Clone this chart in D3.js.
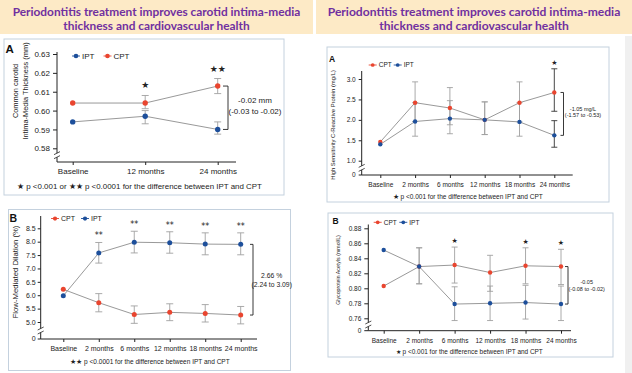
<!DOCTYPE html>
<html>
<head>
<meta charset="utf-8">
<script src="https://cdn.jsdelivr.net/npm/d3@7"></script>
<style>
  body { margin: 0; background: #fff; }
  svg { display: block; }
</style>
</head>
<body>
<script>
// colours
const RED = '#e9452f';
const BLUE = '#1d4f9b';
const FONT = '"Liberation Sans", Arial, sans-serif';

// header
const headerLines = ['Periodontitis treatment improves carotid intima-media', 'thickness and cardiovascular health'];

// left A: carotid intima-media thickness
const imtCategories = ['Baseline', '12 months', '24 months'];
const imtTicks = [0.58, 0.59, 0.60, 0.61, 0.62, 0.63];
const imtIPT = [0.594, 0.597, 0.590];
const imtIPTLow = [null, 0.593, 0.5875];
const imtIPTHigh = [null, 0.600, 0.594];
const imtCPT = [0.604, 0.604, 0.613];
const imtCPTLow = [null, 0.601, 0.609];
const imtCPTHigh = [null, 0.608, 0.617];
const imtStars = ['', '★', '★★'];
const imtDiff = ['-0.02 mm', '(-0.03 to -0.02)'];
const imtYLabel = ['Common carotid', 'Intima-Media Thickness (mm)'];
const imtNote = '★ p <0.001 or ★★ p <0.0001 for the difference between IPT and CPT';

// shared month categories for the other three panels
const monthCategories = ['Baseline', '2 months', '6 months', '12 months', '18 months', '24 months'];

// left B: flow-mediated dilation
const fmdTicks = [5.0, 5.5, 6.0, 6.5, 7.0, 7.5, 8.0, 8.5];
const fmdCPT = [6.22, 5.72, 5.28, 5.36, 5.32, 5.26];
const fmdCPTLow = [null, 5.38, 4.95, 5.05, 5.00, 4.93];
const fmdCPTHigh = [null, 6.06, 5.60, 5.68, 5.65, 5.58];
const fmdIPT = [5.98, 7.58, 7.98, 7.96, 7.91, 7.90];
const fmdIPTLow = [null, 7.20, 7.58, 7.57, 7.51, 7.51];
const fmdIPTHigh = [null, 7.97, 8.39, 8.37, 8.33, 8.33];
const fmdStars = ['', '**', '**', '**', '**', '**'];
const fmdDiff = ['2.66 %', '(2.24 to 3.09)'];
const fmdYLabel = ['Flow-Mediated Dilation (%)'];
const fmdNote = '★★  p <0.0001 for the difference between IPT and CPT';

// right A: high sensitivity C-reactive protein
const crpTicks = [1.0, 1.5, 2.0, 2.5, 3.0];
const crpCPT = [1.46, 2.42, 2.29, 2.00, 2.42, 2.67];
const crpCPTLow = [null, 1.96, 1.88, 1.64, 1.95, 2.21];
const crpCPTHigh = [null, 2.93, 2.79, 2.44, 2.93, 3.25];
const crpIPT = [1.40, 1.96, 2.03, 2.00, 1.95, 1.62];
const crpIPTLow = [null, 1.60, 1.66, 1.64, 1.60, 1.33];
const crpIPTHigh = [null, 2.42, 2.47, 2.44, 2.42, 1.98];
const crpStars = ['', '', '', '', '', '★'];
const crpDiff = ['-1.05 mg/L', '(-1.57 to -0.53)'];
const crpYLabel = ['High Sensitivity C-Reactive Protein (mg/L)'];
const crpNote = '★  p <0.001 for the difference between IPT and CPT';

// right B: glycoprotein acetyls
const glycTicks = [0.76, 0.78, 0.80, 0.82, 0.84, 0.86, 0.88];
const glycCPT = [0.803, 0.829, 0.831, 0.821, 0.830, 0.829];
const glycCPTLow = [null, 0.806, 0.807, 0.796, 0.806, 0.805];
const glycCPTHigh = [null, 0.854, 0.855, 0.844, 0.854, 0.852];
const glycIPT = [0.851, 0.829, 0.779, 0.780, 0.781, 0.779];
const glycIPTLow = [null, 0.806, 0.757, 0.757, 0.759, 0.757];
const glycIPTHigh = [null, 0.854, 0.802, 0.803, 0.804, 0.803];
const glycStars = ['', '', '★', '', '★', '★'];
const glycDiff = ['-0.05', '(-0.08 to -0.02)'];
const glycYLabel = ['Glycoprotein Acetyls (mmol/L)'];
const glycNote = '★  p <0.001 for the difference between IPT and CPT';

const svg = d3.select('body').append('svg')
    .attr('width', 632)
    .attr('height', 373)
    .attr('font-family', FONT);

// scale text so it spans a given width
function fitText(sel, width) {
    const len = sel.node().getComputedTextLength();
    const fs = parseFloat(sel.attr('font-size'));
    sel.attr('font-size', fs * width / len);
    return fs * width / len;
}

function drawHeader(x0, x1, width) {
    svg.append('rect')
        .attr('x', x0).attr('y', 0)
        .attr('width', x1 - x0).attr('height', 34)
        .attr('fill', '#fdeac6');
    const cx = (x0 + x1) / 2;
    const first = svg.append('text')
        .attr('x', cx).attr('y', 15.5)
        .attr('text-anchor', 'middle')
        .attr('font-family', 'Lato, "Open Sans", sans-serif')
        .attr('font-weight', 'bold')
        .attr('font-size', 12)
        .attr('fill', '#7030a0')
        .text(headerLines[0]);
    const fs = fitText(first, width);
    svg.append('text')
        .attr('x', cx).attr('y', 29.5)
        .attr('text-anchor', 'middle')
        .attr('font-family', 'Lato, "Open Sans", sans-serif')
        .attr('font-weight', 'bold')
        .attr('font-size', fs)
        .attr('fill', '#7030a0')
        .text(headerLines[1]);
}

function drawPanel(p) {
    const g = svg.append('g');

    g.append('rect')
        .attr('x', p.box[0]).attr('y', p.box[1])
        .attr('width', p.box[2]).attr('height', p.box[3])
        .attr('fill', '#fff')
        .attr('stroke', '#c4d1de')
        .attr('stroke-width', 1);

    g.append('text')
        .attr('x', p.letterPos[0]).attr('y', p.letterPos[1])
        .attr('font-weight', 'bold')
        .attr('font-size', p.letterSize)
        .attr('fill', '#111')
        .text(p.letter);

    const x = d3.scalePoint().domain(p.categories).range(p.xRange);
    const y = d3.scaleLinear().domain(d3.extent(p.ticks)).range(p.yRange);

    // y axis
    const yAxis = g.append('g')
        .attr('transform', `translate(${p.axisX},0)`)
        .call(d3.axisLeft(y).tickValues(p.ticks).tickFormat(d3.format(p.fmt))
            .tickSize(p.tickSize).tickPadding(p.tickPad));
    yAxis.select('.domain').remove();
    yAxis.selectAll('text').attr('font-family', FONT).attr('font-size', p.fontSize).attr('fill', '#222');
    yAxis.selectAll('line').attr('stroke', '#222');

    g.append('line')
        .attr('x1', p.axisX).attr('x2', p.axisX)
        .attr('y1', p.axisTop).attr('y2', p.xAxisY)
        .attr('stroke', '#222');

    if (p.zeroLabel) {
        g.append('line')
            .attr('x1', p.axisX - p.tickSize).attr('x2', p.axisX)
            .attr('y1', p.xAxisY).attr('y2', p.xAxisY)
            .attr('stroke', '#222');
        g.append('text')
            .attr('x', p.axisX - p.tickSize - p.tickPad)
            .attr('y', p.xAxisY).attr('dy', '0.32em')
            .attr('text-anchor', 'end')
            .attr('font-size', p.fontSize)
            .attr('fill', '#222')
            .text('0');
    }

    // axis break between lowest tick and x axis
    const by = (y(p.ticks[0]) + p.xAxisY) / 2;
    g.append('rect')
        .attr('x', p.axisX - 2).attr('y', by - 2)
        .attr('width', 4).attr('height', 4)
        .attr('fill', '#fff');
    [-2, 2].forEach(off => {
        g.append('line')
            .attr('x1', p.axisX - 3).attr('x2', p.axisX + 3)
            .attr('y1', by + off + 1.5).attr('y2', by + off - 1.5)
            .attr('stroke', '#222').attr('stroke-width', 0.8);
    });

    // x axis
    const xAxis = g.append('g')
        .attr('transform', `translate(0,${p.xAxisY})`)
        .call(d3.axisBottom(x).tickSize(3).tickPadding(p.xTickPad));
    xAxis.select('.domain').remove();
    xAxis.selectAll('text').attr('font-family', FONT).attr('font-size', p.fontSize).attr('fill', '#222');
    xAxis.selectAll('line').attr('stroke', '#222');
    g.append('line')
        .attr('x1', p.axisX).attr('x2', p.xEnd)
        .attr('y1', p.xAxisY).attr('y2', p.xAxisY)
        .attr('stroke', '#222');

    const rows = p.series.map(s => p.categories.map((c, i) => ({
        c: c, v: s.values[i], lo: s.low[i], hi: s.high[i], color: s.color, dark: p.darkIndex === i
    })));

    // connecting lines
    rows.forEach(pts => {
        g.append('path')
            .datum(pts)
            .attr('d', d3.line().x(d => x(d.c)).y(d => y(d.v)))
            .attr('fill', 'none')
            .attr('stroke', '#8d8d8d')
            .attr('stroke-width', 0.9);
    });

    // error bars
    rows.forEach(pts => {
        const bars = pts.filter(d => d.lo !== null);
        const eg = g.append('g');
        eg.selectAll('line.v').data(bars).enter().append('line')
            .attr('x1', d => x(d.c)).attr('x2', d => x(d.c))
            .attr('y1', d => y(d.lo)).attr('y2', d => y(d.hi))
            .attr('stroke', d => d.dark ? '#333' : '#a0a0a0')
            .attr('stroke-width', 0.9);
        ['lo', 'hi'].forEach(k => {
            eg.selectAll('line.' + k).data(bars).enter().append('line')
                .attr('x1', d => x(d.c) - p.capW / 2).attr('x2', d => x(d.c) + p.capW / 2)
                .attr('y1', d => y(d[k])).attr('y2', d => y(d[k]))
                .attr('stroke', d => d.dark ? '#333' : '#a0a0a0')
                .attr('stroke-width', 0.9);
        });
    });

    // points
    rows.forEach(pts => {
        g.selectAll(null).data(pts).enter().append('circle')
            .attr('cx', d => x(d.c)).attr('cy', d => y(d.v))
            .attr('r', p.r)
            .attr('fill', d => d.color);
    });

    // significance stars above the highest whisker
    p.stars.forEach((st, i) => {
        if (!st) return;
        const top = d3.max(p.series, s => s.high[i]);
        g.append('text')
            .attr('x', x(p.categories[i]))
            .attr('y', y(top) - p.starGap)
            .attr('text-anchor', 'middle')
            .attr('font-family', 'DejaVu Sans, sans-serif')
            .attr('font-size', p.starSize)
            .attr('fill', '#222')
            .text(st);
    });

    // legend
    p.series.forEach((s, i) => {
        const lx = p.legendX[i];
        g.append('line')
            .attr('x1', lx - 4).attr('x2', lx + 4)
            .attr('y1', p.legendY).attr('y2', p.legendY)
            .attr('stroke', s.color).attr('stroke-width', 0.9);
        g.append('circle')
            .attr('cx', lx).attr('cy', p.legendY)
            .attr('r', p.r * 0.85)
            .attr('fill', s.color);
        g.append('text')
            .attr('x', lx + 6).attr('y', p.legendY).attr('dy', '0.35em')
            .attr('font-size', p.fontSize)
            .attr('fill', '#222')
            .text(s.name);
    });

    // bracket between the last points
    const last = p.categories.length - 1;
    const by1 = y(p.series[0].values[last]);
    const by2 = y(p.series[1].values[last]);
    g.append('path')
        .attr('d', `M${p.bracketX - p.bracketW},${by1}H${p.bracketX}V${by2}H${p.bracketX - p.bracketW}`)
        .attr('fill', 'none')
        .attr('stroke', '#222')
        .attr('stroke-width', 0.9);
    p.diff.forEach((t, i) => {
        g.append('text')
            .attr('x', p.diffX).attr('y', p.diffY[i])
            .attr('text-anchor', 'middle')
            .attr('font-size', p.diffSize)
            .attr('fill', '#222')
            .text(t);
    });

    // y label
    p.yLabel.forEach((t, i) => {
        const lbl = g.append('text')
            .attr('transform', `translate(${p.yLabelX[i]},${p.yLabelY}) rotate(-90)`)
            .attr('text-anchor', 'middle')
            .attr('font-size', p.yLabelSize)
            .attr('fill', '#222')
            .text(t);
        if (p.yLabelW) fitText(lbl, p.yLabelW);
    });

    // footnote
    const note = g.append('text')
        .attr('x', p.noteX).attr('y', p.noteY)
        .attr('text-anchor', 'middle')
        .attr('font-size', 8)
        .attr('fill', '#222')
        .text(p.note);
    fitText(note, p.noteW);
}

drawHeader(0, 313, 288);
drawHeader(316, 632, 293);

// faint band on the right edge
svg.append('rect')
    .attr('x', 625).attr('y', 36).attr('width', 7).attr('height', 337)
    .attr('fill', '#f0f0f0');

drawPanel({
    box: [4, 39, 280, 156], letter: 'A', letterPos: [5.5, 53], letterSize: 11.5,
    categories: imtCategories, ticks: imtTicks, fmt: '.2f',
    axisX: 57, axisTop: 52, yRange: [148.3, 54], tickSize: 4, tickPad: 3, fontSize: 8,
    xAxisY: 162, xRange: [72.7, 217.7], xEnd: 236, xTickPad: 3.5, zeroLabel: false,
    series: [
        { name: 'IPT', color: BLUE, values: imtIPT, low: imtIPTLow, high: imtIPTHigh },
        { name: 'CPT', color: RED, values: imtCPT, low: imtCPTLow, high: imtCPTHigh }
    ],
    r: 2.7, capW: 7, legendX: [76, 107.5], legendY: 56,
    stars: imtStars, starSize: 9, starGap: 7,
    bracketX: 228, bracketW: 5, diff: imtDiff, diffX: 255, diffY: [103, 114], diffSize: 8,
    yLabel: imtYLabel, yLabelX: [17.5, 27.5], yLabelY: 91, yLabelSize: 7.4,
    note: imtNote, noteX: 139.5, noteY: 188.5, noteW: 245
});

drawPanel({
    box: [8.5, 209.5, 282, 161], letter: 'B', letterPos: [9.5, 222], letterSize: 10.5,
    categories: monthCategories, ticks: fmdTicks, fmt: '.1f',
    axisX: 40.7, axisTop: 216, yRange: [322, 228.3], tickSize: 3, tickPad: 2, fontSize: 7,
    xAxisY: 339, xRange: [63.3, 240.7], xEnd: 257, xTickPad: 4, zeroLabel: true,
    series: [
        { name: 'CPT', color: RED, values: fmdCPT, low: fmdCPTLow, high: fmdCPTHigh },
        { name: 'IPT', color: BLUE, values: fmdIPT, low: fmdIPTLow, high: fmdIPTHigh }
    ],
    r: 2.5, capW: 7, legendX: [55, 85], legendY: 218.5,
    stars: fmdStars, starSize: 8, starGap: 4,
    bracketX: 253, bracketW: 3, diff: fmdDiff, diffX: 271.7, diffY: [277.5, 286.5], diffSize: 6.8,
    yLabel: fmdYLabel, yLabelX: [18], yLabelY: 272, yLabelSize: 7, yLabelW: 93,
    note: fmdNote, noteX: 150, noteY: 363.5, noteW: 159
});

drawPanel({
    box: [327, 47, 282, 155], letter: 'A', letterPos: [329, 62], letterSize: 8.5,
    categories: monthCategories, ticks: crpTicks, fmt: '.1f',
    axisX: 361.7, axisTop: 71, yRange: [160.7, 79], tickSize: 3, tickPad: 3, fontSize: 6.5,
    xAxisY: 175, xRange: [380.3, 554.3], xEnd: 572.7, xTickPad: 4.5, zeroLabel: true,
    series: [
        { name: 'CPT', color: RED, values: crpCPT, low: crpCPTLow, high: crpCPTHigh },
        { name: 'IPT', color: BLUE, values: crpIPT, low: crpIPTLow, high: crpIPTHigh }
    ],
    darkIndex: 5,
    r: 2.2, capW: 6, legendX: [372.7, 397.7], legendY: 65,
    stars: crpStars, starSize: 7, starGap: 4,
    bracketX: 563.5, bracketW: 3, diff: crpDiff, diffX: 583, diffY: [110.5, 117], diffSize: 5.5,
    yLabel: crpYLabel, yLabelX: [334.5], yLabelY: 125, yLabelSize: 6, yLabelW: 110,
    note: crpNote, noteX: 467.7, noteY: 199, noteW: 150
});

drawPanel({
    box: [328, 213, 285, 144], letter: 'B', letterPos: [332.5, 223.5], letterSize: 8.5,
    categories: monthCategories, ticks: glycTicks, fmt: '.2f',
    axisX: 368.3, axisTop: 224.5, yRange: [318.3, 228.3], tickSize: 4, tickPad: 3, fontSize: 6.5,
    xAxisY: 330.7, xRange: [383.7, 561], xEnd: 571, xTickPad: 4.5, zeroLabel: true,
    series: [
        { name: 'CPT', color: RED, values: glycCPT, low: glycCPTLow, high: glycCPTHigh },
        { name: 'IPT', color: BLUE, values: glycIPT, low: glycIPTLow, high: glycIPTHigh }
    ],
    r: 2.2, capW: 6, legendX: [377.7, 403.3], legendY: 222.3,
    stars: glycStars, starSize: 7, starGap: 4,
    bracketX: 568, bracketW: 3, diff: glycDiff, diffX: 586.7, diffY: [283.5, 290.5], diffSize: 5.5,
    yLabel: glycYLabel, yLabelX: [340], yLabelY: 270, yLabelSize: 6, yLabelW: 70,
    note: glycNote, noteX: 469.3, noteY: 353.5, noteW: 148
});
</script>
</body>
</html>
